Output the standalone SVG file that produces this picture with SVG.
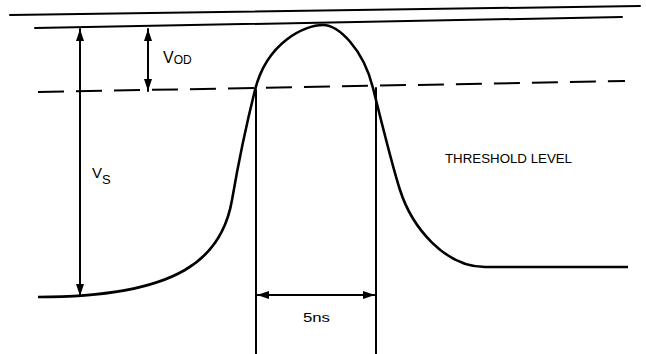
<svg xmlns="http://www.w3.org/2000/svg" width="646" height="354" viewBox="0 0 646 354">
  <defs>
    <style>
      .ln { stroke: #000; stroke-width: 2; fill: none; stroke-linecap: round; }
      .crv { stroke: #000; stroke-width: 2.6; fill: none; stroke-linejoin: round; }
      .dash { stroke: #000; stroke-width: 2; fill: none; stroke-dasharray: 26 12; }
      .txt { font-family: "Liberation Sans", Arial, sans-serif; fill: #000; }
    </style>
    <marker id="ah" viewBox="0 0 12 8" refX="12" refY="4" markerWidth="12" markerHeight="8" markerUnits="userSpaceOnUse" orient="auto-start-reverse">
      <path d="M0,0 L12,4 L0,8 Z" fill="#000"/>
    </marker>
  </defs>

  <g id="reference-lines">
    <line class="ln" x1="10" y1="15" x2="640" y2="6"/>
    <line class="ln" x1="35" y1="28" x2="622" y2="17"/>
    <line class="dash" x1="38" y1="92" x2="625" y2="81"/>
  </g>

  <g id="pulse">
    <path class="crv" d="M38,297 C180,297 222,258 232,200 C238,165 249,114 255,90 C267,42 305,25 323,25 C338,25 363,48 373,88 C380,116 392,165 400,190 C412,227.5 445,267 485,267 L628,267"/>
  </g>

  <g id="connectors">
    <line class="ln" x1="80" y1="29" x2="80" y2="296" marker-start="url(#ah)" marker-end="url(#ah)"/>
    <line class="ln" x1="148" y1="29" x2="148" y2="91" marker-start="url(#ah)" marker-end="url(#ah)"/>
    <line class="ln" x1="256" y1="90" x2="256" y2="354"/>
    <line class="ln" x1="376" y1="88" x2="376" y2="354"/>
    <line class="ln" x1="257" y1="295" x2="375" y2="295" marker-start="url(#ah)" marker-end="url(#ah)"/>
  </g>

  <g id="label-vod">
    <text class="txt" x="163" y="63" font-size="16">V<tspan font-size="12" dy="1">OD</tspan></text>
  </g>
  <g id="label-vs">
    <text class="txt" x="92" y="178" font-size="15">V<tspan font-size="13" dy="6">S</tspan></text>
  </g>
  <g id="label-threshold">
    <text class="txt" x="445" y="163" font-size="12" textLength="127" lengthAdjust="spacingAndGlyphs">THRESHOLD LEVEL</text>
  </g>
  <g id="label-5ns">
    <text class="txt" x="303" y="322" font-size="13" textLength="27" lengthAdjust="spacingAndGlyphs">5ns</text>
  </g>
</svg>
